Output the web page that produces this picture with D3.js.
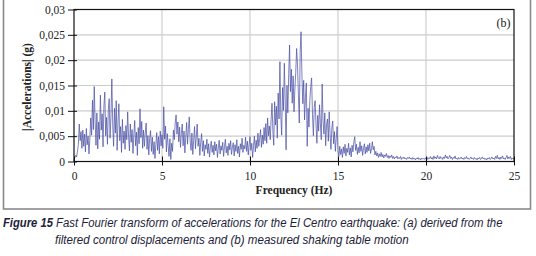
<!DOCTYPE html>
<html>
<head>
<meta charset="utf-8">
<script src="https://cdn.jsdelivr.net/npm/d3@7"></script>
<style>
  body { margin: 0; background: #fff; }
  svg { display: block; }
</style>
</head>
<body>
<script>
// FFT amplitude, in 0.001 g, one value every 0.05 Hz
const freqStep = 0.05;
const amp0to5 = [
  0.2,0.8,1.2,0.9,2.1,3.4,7.4,4.1,5.9,2.6,6.2,3.0,5.4,1.9,6.5,3.3,5.0,1.5,4.4,8.6,
  5.2,12.1,6.3,14.8,8.0,3.2,9.6,2.5,7.8,4.4,13.1,6.2,9.4,2.9,11.0,13.7,5.1,8.7,3.4,10.2,
  12.4,4.6,9.0,16.3,7.2,3.0,10.5,5.6,12.0,2.2,7.9,11.4,4.1,6.9,1.8,8.3,3.6,6.0,2.4,7.1,
  4.3,9.8,5.0,2.1,7.4,3.8,6.3,1.6,5.2,8.1,3.1,5.8,1.2,6.7,3.5,10.4,4.7,7.9,2.6,6.2,
  3.0,5.6,7.6,2.4,5.1,1.3,4.6,6.1,2.0,4.8,1.4,3.9,0.6,3.3,5.7,2.2,4.9,1.5,6.0,3.1
];
const amp5to10 = [
  5.3,2.6,10.8,4.4,7.0,1.9,5.5,3.2,1.0,4.5,0.4,3.6,2.0,6.2,4.3,7.6,9.2,5.4,7.8,3.9,
  6.8,2.8,5.5,7.4,3.1,6.0,1.7,4.9,7.7,3.4,6.3,8.8,4.0,2.2,5.6,1.4,4.2,6.9,2.5,5.0,
  7.4,3.0,4.6,1.2,3.8,5.5,2.0,4.1,1.1,3.3,2.4,4.4,1.6,3.5,0.9,2.9,4.0,1.8,3.2,1.3,
  3.9,2.1,3.4,0.8,2.7,4.2,1.5,3.1,2.2,3.8,1.0,2.9,4.4,1.7,3.0,1.2,3.6,2.3,4.1,1.4,
  2.8,3.7,1.1,3.3,2.0,4.3,1.6,3.0,0.9,3.5,2.4,4.6,1.8,3.2,2.5,4.8,2.0,4.0,1.3,3.4
];
const amp10to15 = [
  4.9,2.2,3.6,0.8,3.1,5.0,1.9,4.2,2.6,5.6,3.0,4.6,6.3,2.8,5.2,3.4,6.7,4.1,7.5,3.6,
  8.6,5.1,7.0,4.3,8.3,11.5,6.0,3.2,11.8,7.2,10.9,4.6,13.5,8.4,19.7,9.0,5.2,14.6,10.1,19.4,
  12.2,2.3,15.0,9.6,17.4,23.0,13.8,18.2,11.5,16.9,9.8,14.3,17.6,22.3,19.0,13.2,7.6,21.5,25.6,17.1,
  11.4,16.0,8.2,12.6,15.5,3.0,10.5,6.8,12.1,14.8,16.5,9.3,5.1,10.7,12.0,7.4,3.6,9.1,6.0,11.2,
  7.5,4.3,15.3,8.0,5.4,9.6,3.1,7.2,8.4,4.0,9.8,5.3,2.4,6.6,8.0,3.5,5.9,2.0,4.6,6.9
];
const amp15to20 = [
  2.1,1.0,3.0,1.4,2.5,0.8,2.9,1.6,3.4,1.1,2.6,1.8,3.6,1.3,2.7,0.9,3.2,1.9,3.8,4.9,
  2.2,3.4,1.4,2.8,1.7,3.9,2.0,3.1,1.2,2.6,3.5,1.5,2.9,1.8,3.3,2.1,3.6,1.6,2.5,3.9,
  2.3,3.0,1.3,2.0,1.1,1.7,0.8,1.5,1.0,1.8,0.9,1.4,0.7,1.3,1.0,1.6,0.8,1.2,0.6,1.1,
  0.8,1.3,0.6,1.0,0.5,0.9,0.7,1.1,0.5,0.8,0.6,1.0,0.4,0.8,0.6,0.9,0.5,0.7,0.4,0.8,
  0.6,0.9,0.5,0.7,0.4,0.8,0.5,0.6,0.3,0.7,0.5,0.8,0.4,0.6,0.3,0.7,0.5,0.6,0.4,0.7
];
const amp20to25 = [
  0.5,0.9,0.4,0.7,0.6,1.0,0.5,0.8,0.4,1.1,0.6,0.9,0.5,1.2,0.7,0.5,1.0,0.6,0.8,0.4,
  0.9,0.6,1.3,0.7,1.0,0.5,0.8,1.2,0.6,0.9,0.4,0.8,0.6,1.1,0.5,0.7,0.4,0.8,0.5,0.6,
  0.9,0.5,0.7,0.4,0.8,0.6,1.0,0.5,0.7,0.4,0.6,0.9,0.5,0.7,0.4,0.8,0.5,0.6,0.3,0.7,
  0.5,0.8,0.4,0.6,0.9,0.5,0.7,0.4,0.6,0.3,0.7,0.5,0.8,0.4,0.6,0.9,0.5,0.7,0.4,1.0,
  0.6,1.2,0.5,0.8,0.4,0.9,0.6,1.1,0.5,0.7,0.4,0.8,1.2,0.5,0.9,0.6,1.0,0.4,0.7,0.5,
  0.6
];

const xTicks = [0, 5, 10, 15, 20, 25];
const yTicks = [0, 0.005, 0.01, 0.015, 0.02, 0.025, 0.03];
const panelLabel = "(b)";
const xTitle = "Frequency (Hz)";
const yTitle = "|Accelerations| (g)";
const captionHead = "Figure 15";
const captionLine1 = "Fast Fourier transform of accelerations for the El Centro earthquake: (a) derived from the";
const captionLine2 = "filtered control displacements and (b) measured shaking table motion";

const ampAll = [].concat(amp0to5, amp5to10, amp10to15, amp15to20, amp20to25);
const data = ampAll.map((a, i) => ({freq: i * freqStep, acc: a / 1000}));

// set the dimensions and margins of the graph
const margin = {top: 9.5, right: 22, bottom: 94.5, left: 74},
    width = 536 - margin.left - margin.right,
    height = 256 - margin.top - margin.bottom;

const svg0 = d3.select("body")
  .append("svg")
    .attr("width", 536)
    .attr("height", 256);

// grey frame around the figure
svg0.append("rect")
    .attr("x", 3.5).attr("y", -3)
    .attr("width", 527).attr("height", 212)
    .attr("fill", "none")
    .attr("stroke", "#8a8a8a")
    .attr("stroke-width", 1.6);

const svg = svg0.append("g")
    .attr("transform", `translate(${margin.left},${margin.top})`);

const x = d3.scaleLinear().domain([0, 25]).range([0, width]);
const y = d3.scaleLinear().domain([0, 0.03]).range([height, 0]);

const loc = d3.formatLocale({decimal: ",", thousands: ".", grouping: [3], currency: ["", ""]});
const fmt = loc.format("~g");

// grid
svg.append("g").selectAll("line")
  .data(yTicks.filter(d => d > 0 && d < 0.03))
  .join("line")
    .attr("x1", 0).attr("x2", width)
    .attr("y1", d => y(d)).attr("y2", d => y(d))
    .attr("stroke", "#cccccc").attr("stroke-width", 1.1);
svg.append("g").selectAll("line")
  .data(xTicks.filter(d => d > 0 && d < 25))
  .join("line")
    .attr("x1", d => x(d)).attr("x2", d => x(d))
    .attr("y1", 0).attr("y2", height)
    .attr("stroke", "#cccccc").attr("stroke-width", 1.1);

// the spectrum
svg.append("path")
    .datum(data)
    .attr("fill", "none")
    .attr("stroke", "#4a4fa3")
    .attr("stroke-width", 0.85)
    .attr("stroke-opacity", 0.85)
    .attr("stroke-linejoin", "round")
    .attr("d", d3.line().x(d => x(d.freq)).y(d => y(d.acc)));

// plot frame
svg.append("rect")
    .attr("width", width).attr("height", height)
    .attr("fill", "none")
    .attr("stroke", "#111")
    .attr("stroke-width", 1.2);

// axes
const yAxis = svg.append("g")
    .call(d3.axisLeft(y).tickValues(yTicks).tickFormat(fmt).tickSize(6).tickPadding(3));
yAxis.select(".domain").remove();
yAxis.selectAll("line").attr("x1", 3).attr("stroke", "#111");

const xAxis = svg.append("g")
    .attr("transform", `translate(0,${height})`)
    .call(d3.axisBottom(x).tickValues(xTicks).tickSize(4).tickPadding(6));
xAxis.select(".domain").remove();
xAxis.selectAll("line").attr("y1", -5).attr("stroke", "#111");

svg.selectAll(".tick text")
    .attr("font-family", "'Liberation Serif', 'DejaVu Serif', serif")
    .attr("font-size", 11.5)
    .attr("fill", "#222");

svg.append("text")
    .attr("x", x(24.4)).attr("y", 17)
    .attr("text-anchor", "middle")
    .attr("font-family", "'Liberation Serif', serif")
    .attr("font-size", 12)
    .attr("fill", "#222")
    .text(panelLabel);

svg0.append("text")
    .attr("x", margin.left + x(12.5)).attr("y", 194)
    .attr("text-anchor", "middle")
    .attr("font-family", "'Liberation Serif', serif")
    .attr("font-weight", "bold")
    .attr("font-size", 11.5)
    .attr("fill", "#222")
    .text(xTitle);

svg0.append("text")
    .attr("transform", "translate(31,87) rotate(-90)")
    .attr("text-anchor", "middle")
    .attr("font-family", "'Liberation Serif', serif")
    .attr("font-weight", "bold")
    .attr("font-size", 11.5)
    .attr("fill", "#222")
    .text(yTitle);

// caption: condensed italic sans, squeezed horizontally to the reference width
const capFont = "'Liberation Sans', Arial, sans-serif";
function caption(txt, x0, y0, targetW, bold) {
  const t = svg0.append("text")
      .attr("font-family", capFont)
      .attr("font-style", "italic")
      .attr("font-weight", bold ? "bold" : "normal")
      .attr("font-size", 13.5)
      .attr("fill", "#1c2238")
      .text(txt);
  const w = t.node().getComputedTextLength();
  t.attr("transform", `translate(${x0},${y0}) scale(${targetW / w},1)`);
}
caption(captionHead, 3, 227, 50, true);
caption(captionLine1, 56, 227, 447, false);
caption(captionLine2, 55, 244, 354, false);
</script>
</body>
</html>
